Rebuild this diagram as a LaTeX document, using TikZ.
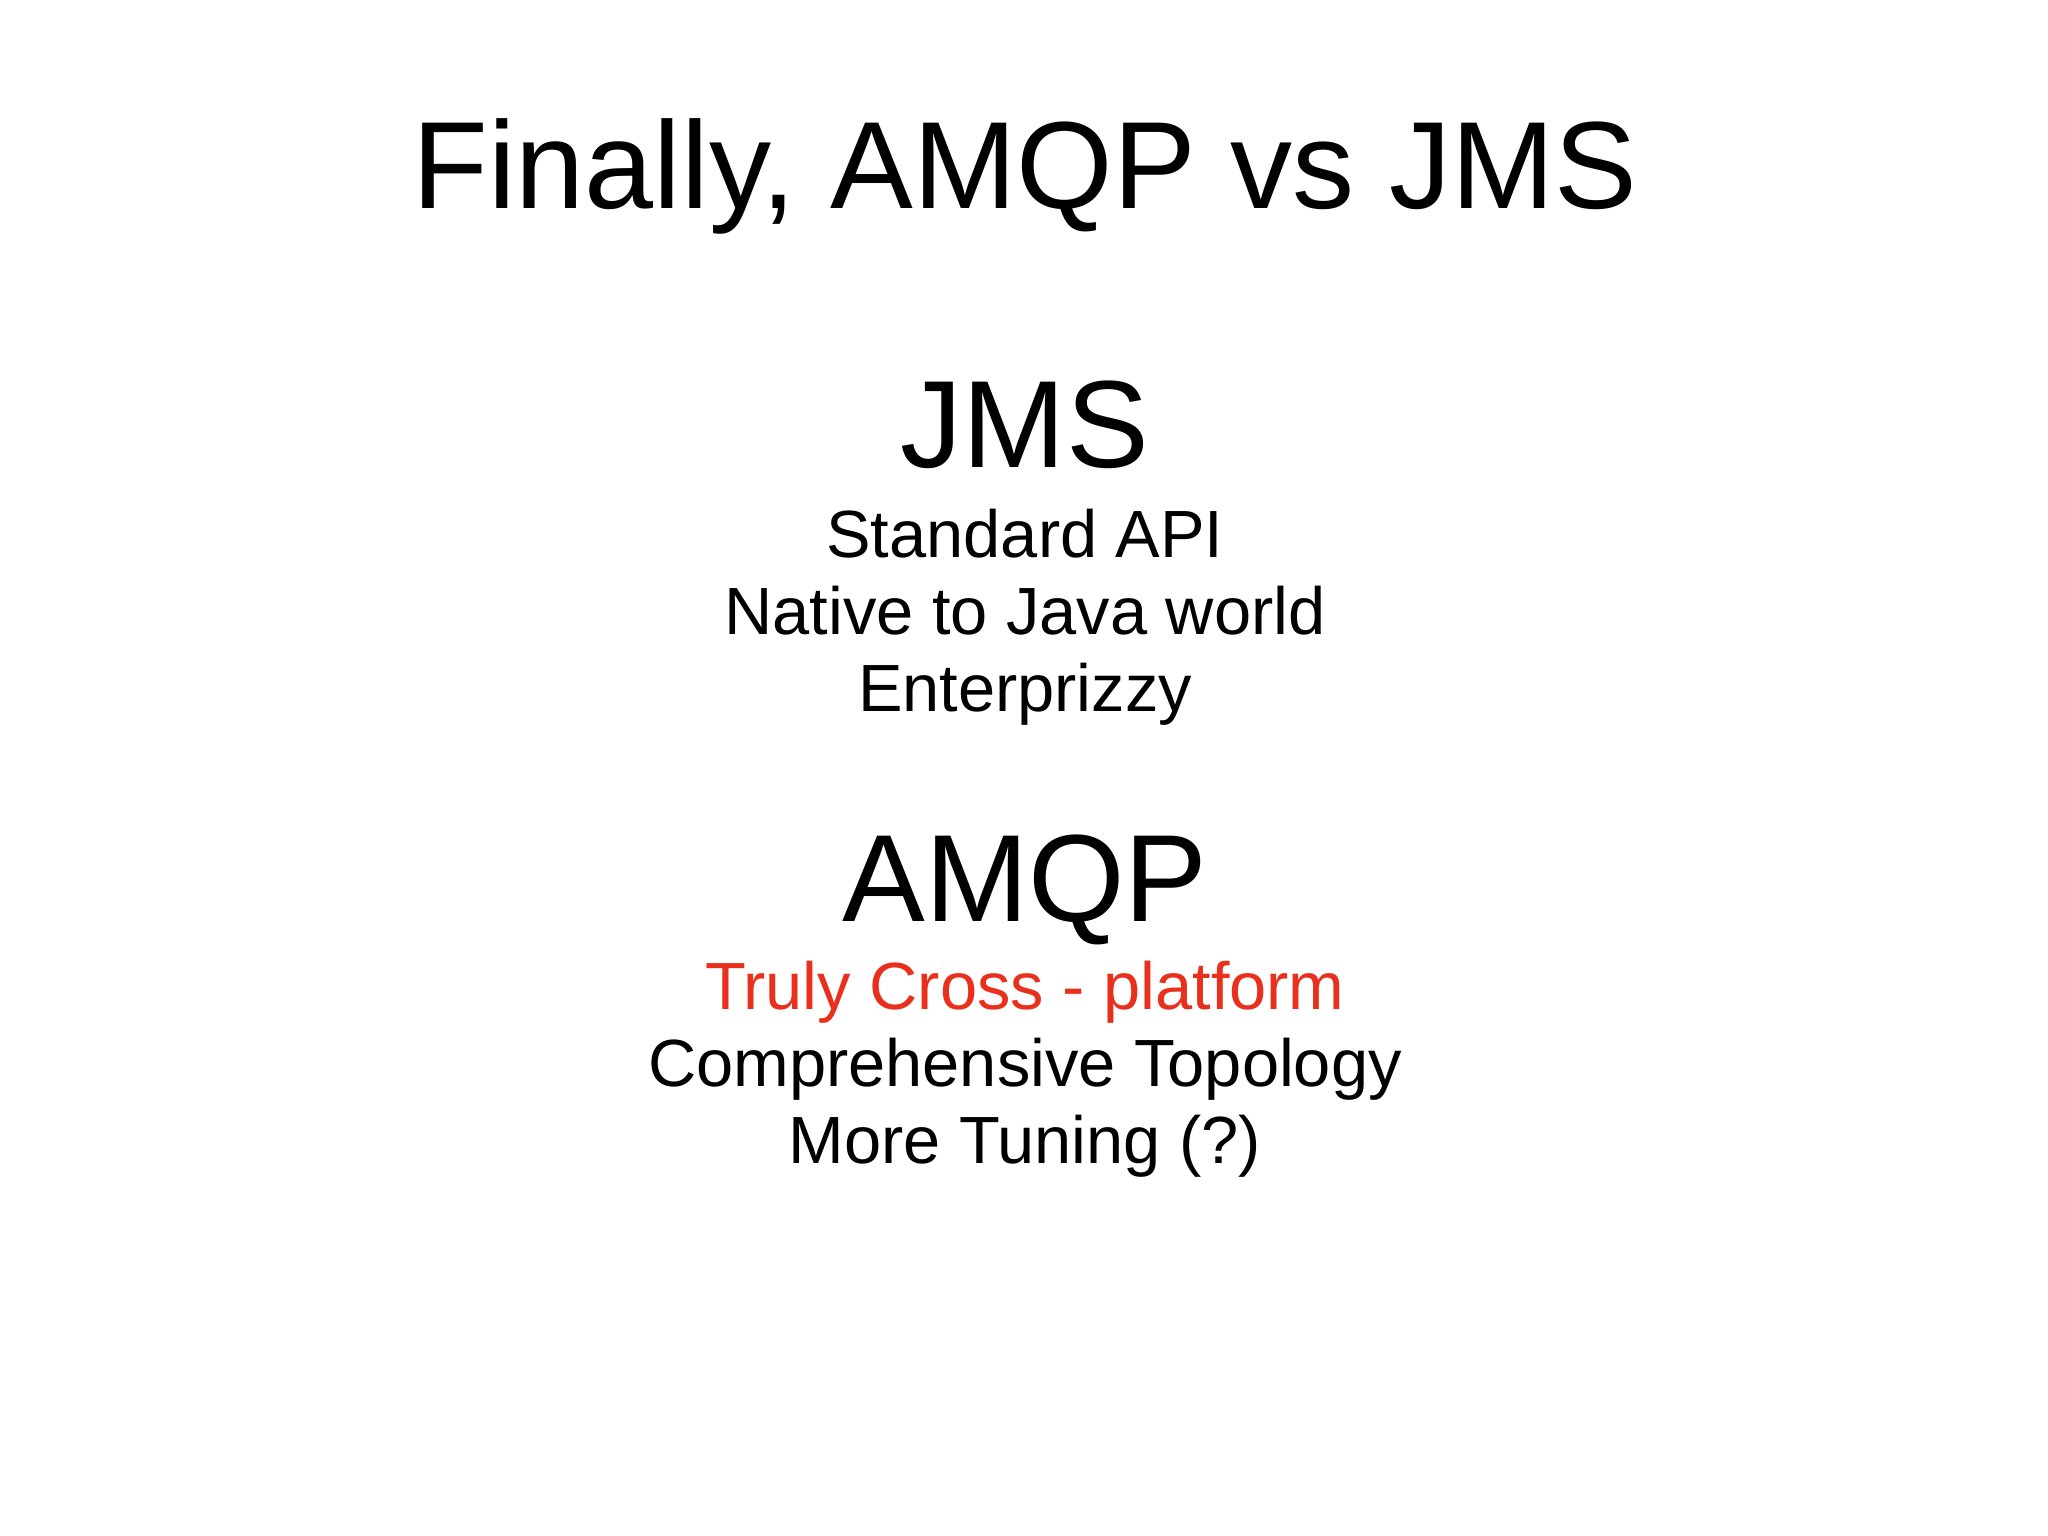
\documentclass[tikz,border=0pt]{standalone}
\usepackage{fontspec}
\setmainfont{Liberation Sans}
\definecolor{redtxt}{HTML}{E8301C}
\begin{document}
\begin{tikzpicture}[x=1cm,y=1cm,
  big/.style={anchor=base,font=\fontsize{35.3pt}{40pt}\selectfont,inner sep=0pt},
  item/.style={anchor=base,font=\fontsize{19pt}{22pt}\selectfont,inner sep=0pt}]
\useasboundingbox (0,0) rectangle (20.48,-15.36);
\node[big] (title) at (10.25,-2.09) {Finally, AMQP vs JMS};
\node[big] (jms) at (10.25,-4.68) {JMS};
\node[item] (j1) at (10.25,-5.58) {Standard API};
\node[item] (j2) at (10.25,-6.35) {Native to Java world};
\node[item] (j3) at (10.25,-7.11) {Enterprizzy};
\node[big] (amqp) at (10.25,-9.21) {AMQP};
\node[item,text=redtxt] (a1) at (10.25,-10.09) {Truly Cross - platform};
\node[item] (a2) at (10.25,-10.86) {Comprehensive Topology};
\node[item] (a3) at (10.25,-11.63) {More Tuning (?)};
\end{tikzpicture}
\end{document}
